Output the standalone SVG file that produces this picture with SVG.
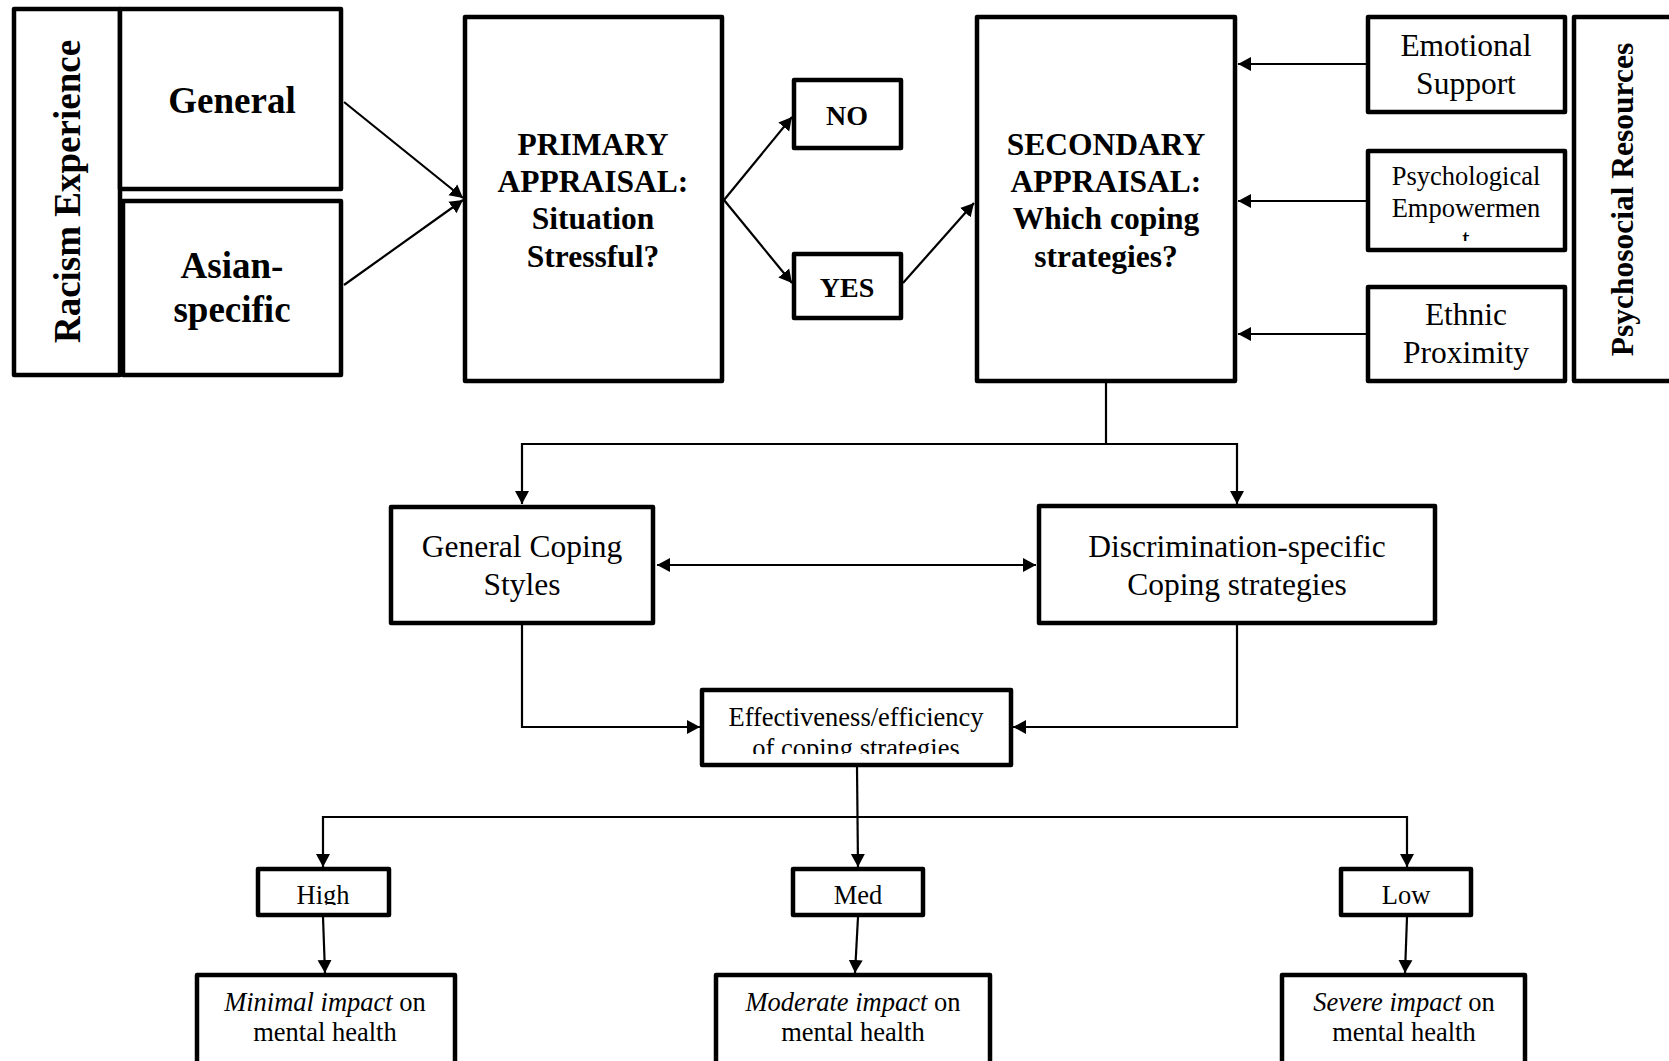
<svg xmlns="http://www.w3.org/2000/svg" width="1669" height="1061" viewBox="0 0 1669 1061">
<style>
.box{fill:#fff;stroke:#000;stroke-width:4.5;stroke-linejoin:round}
.t{font-family:"Liberation Serif","Times New Roman",serif;fill:#000;text-anchor:middle}
.b{font-weight:bold}
.s37{font-size:37px}
.s32{font-size:31.5px}
.s28{font-size:28px}
.s26{font-size:26.5px}
.it{font-style:italic}
.c{fill:none;stroke:#000;stroke-width:2.2}
</style>
<defs>
<marker id="ah" markerUnits="userSpaceOnUse" markerWidth="14" markerHeight="15" refX="13" refY="7" orient="auto-start-reverse" viewBox="0 0 14 14">
<path d="M0,0 L13,7 L0,14 z" fill="#000"/>
</marker>
<clipPath id="clipPsych"><rect x="1368" y="151" width="197" height="90"/></clipPath>
<clipPath id="clipEff"><rect x="702" y="690" width="309" height="64"/></clipPath>
<clipPath id="clipHigh"><rect x="258" y="869" width="131" height="36"/></clipPath>
</defs>
<rect width="1669" height="1061" fill="#fff"/>

<g id="racism-experience">
<rect class="box" x="14" y="9" width="106" height="366"/>
<text class="t b s37" transform="translate(80,191.5) rotate(-90)">Racism Experience</text>
</g>
<g id="general">
<rect class="box" x="120" y="9" width="221" height="180"/>
<text class="t b s37" x="232" y="113">General</text>
</g>
<g id="asian-specific">
<rect class="box" x="123" y="201" width="218" height="174"/>
<text class="t b s37" x="232" y="278">Asian-</text>
<text class="t b s37" x="232" y="322">specific</text>
</g>
<g id="primary-appraisal">
<rect class="box" x="465" y="17" width="257" height="364"/>
<text class="t b s32" x="593" y="155">PRIMARY</text>
<text class="t b s32" x="593" y="192">APPRAISAL:</text>
<text class="t b s32" x="593" y="229">Situation</text>
<text class="t b s32" x="593" y="267">Stressful?</text>
</g>
<g id="no">
<rect class="box" x="794" y="80" width="107" height="68"/>
<text class="t b s28" x="847" y="125">NO</text>
</g>
<g id="yes">
<rect class="box" x="794" y="254" width="107" height="64"/>
<text class="t b s28" x="847" y="297">YES</text>
</g>
<g id="secondary-appraisal">
<rect class="box" x="977" y="17" width="258" height="364"/>
<text class="t b s32" x="1106" y="155">SECONDARY</text>
<text class="t b s32" x="1106" y="192">APPRAISAL:</text>
<text class="t b s32" x="1106" y="229">Which coping</text>
<text class="t b s32" x="1106" y="267">strategies?</text>
</g>
<g id="emotional-support">
<rect class="box" x="1368" y="17" width="197" height="95"/>
<text class="t s32" x="1466" y="56">Emotional</text>
<text class="t s32" x="1466" y="94">Support</text>
</g>
<g id="psychological-empowerment">
<rect class="box" x="1368" y="151" width="197" height="99"/>
<g clip-path="url(#clipPsych)">
<text class="t s26" x="1466" y="185">Psychological</text>
<text class="t s26" x="1466" y="217">Empowermen</text>
<text class="t s26" x="1466" y="248">t</text>
</g>
</g>
<g id="ethnic-proximity">
<rect class="box" x="1368" y="287" width="197" height="94"/>
<text class="t s32" x="1466" y="325">Ethnic</text>
<text class="t s32" x="1466" y="363">Proximity</text>
</g>
<g id="psychosocial-resources">
<rect class="box" x="1574" y="17" width="200" height="364"/>
<text class="t b s32" transform="translate(1633,199.5) rotate(-90)">Psychosocial Resources</text>
</g>
<g id="general-coping-styles">
<rect class="box" x="391" y="507" width="262" height="116"/>
<text class="t s32" x="522" y="557">General Coping</text>
<text class="t s32" x="522" y="595">Styles</text>
</g>
<g id="discrimination-specific">
<rect class="box" x="1039" y="506" width="396" height="117"/>
<text class="t s32" x="1237" y="557">Discrimination-specific</text>
<text class="t s32" x="1237" y="595">Coping strategies</text>
</g>
<g id="effectiveness">
<rect class="box" x="702" y="690" width="309" height="75"/>
<g clip-path="url(#clipEff)">
<text class="t s26" x="856" y="726">Effectiveness/efficiency</text>
<text class="t s26" x="856" y="757">of coping strategies</text>
</g>
</g>
<g id="high">
<rect class="box" x="258" y="869" width="131" height="46"/>
<text class="t s26" x="323" y="904" clip-path="url(#clipHigh)">High</text>
</g>
<g id="med">
<rect class="box" x="793" y="869" width="130" height="46"/>
<text class="t s26" x="858" y="904">Med</text>
</g>
<g id="low">
<rect class="box" x="1341" y="869" width="130" height="46"/>
<text class="t s26" x="1406" y="904">Low</text>
</g>
<g id="minimal-impact">
<rect class="box" x="197" y="975" width="258" height="120"/>
<text class="t s26" x="325" y="1011"><tspan class="it">Minimal impact</tspan> on</text>
<text class="t s26" x="325" y="1041">mental health</text>
</g>
<g id="moderate-impact">
<rect class="box" x="716" y="975" width="274" height="120"/>
<text class="t s26" x="853" y="1011"><tspan class="it">Moderate impact</tspan> on</text>
<text class="t s26" x="853" y="1041">mental health</text>
</g>
<g id="severe-impact">
<rect class="box" x="1282" y="975" width="243" height="120"/>
<text class="t s26" x="1404" y="1011"><tspan class="it">Severe impact</tspan> on</text>
<text class="t s26" x="1404" y="1041">mental health</text>
</g>

<g id="connectors">
<line class="c" x1="344" y1="102" x2="463" y2="198" marker-end="url(#ah)"/>
<line class="c" x1="344" y1="285" x2="463" y2="200" marker-end="url(#ah)"/>
<line class="c" x1="724" y1="200" x2="792" y2="117" marker-end="url(#ah)"/>
<line class="c" x1="724" y1="200" x2="792" y2="283" marker-end="url(#ah)"/>
<line class="c" x1="903" y1="283" x2="974" y2="203" marker-end="url(#ah)"/>
<line class="c" x1="1366" y1="64" x2="1238" y2="64" marker-end="url(#ah)"/>
<line class="c" x1="1366" y1="201" x2="1238" y2="201" marker-end="url(#ah)"/>
<line class="c" x1="1366" y1="334" x2="1238" y2="334" marker-end="url(#ah)"/>
<line class="c" x1="1106" y1="383" x2="1106" y2="444"/>
<polyline class="c" points="1106,444 522,444 522,504" marker-end="url(#ah)"/>
<polyline class="c" points="1106,444 1237,444 1237,504" marker-end="url(#ah)"/>
<line class="c" x1="657" y1="565" x2="1036" y2="565" marker-start="url(#ah)" marker-end="url(#ah)"/>
<polyline class="c" points="522,625 522,727 700,727" marker-end="url(#ah)"/>
<polyline class="c" points="1237,625 1237,727 1013,727" marker-end="url(#ah)"/>
<line class="c" x1="857" y1="767" x2="858" y2="867" marker-end="url(#ah)"/>
<polyline class="c" points="857,817 323,817 323,867" marker-end="url(#ah)"/>
<polyline class="c" points="857,817 1407,817 1407,867" marker-end="url(#ah)"/>
<line class="c" x1="323" y1="917" x2="325" y2="973" marker-end="url(#ah)"/>
<line class="c" x1="858" y1="917" x2="855" y2="973" marker-end="url(#ah)"/>
<line class="c" x1="1407" y1="917" x2="1405" y2="973" marker-end="url(#ah)"/>
</g>
</svg>
